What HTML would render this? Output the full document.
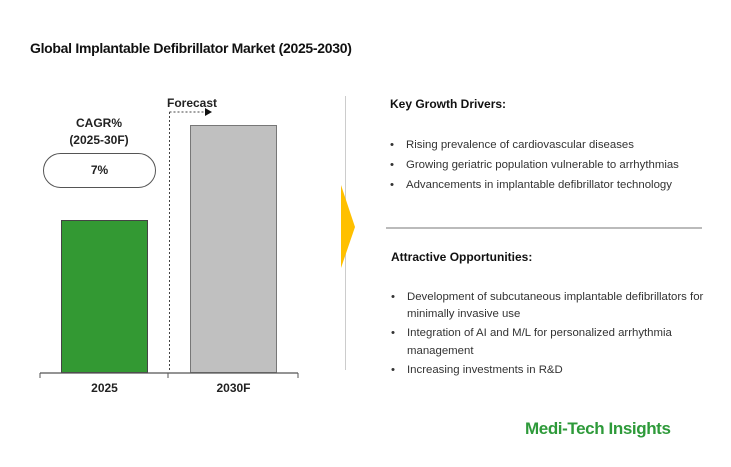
<!DOCTYPE html>
<html><head><style>
body{margin:0;width:731px;height:467px;background:#fff;font-family:"Liberation Sans",Arial,sans-serif;position:relative;overflow:hidden;color:#222}
.a{position:absolute;white-space:nowrap}
.b{font-weight:bold}
.li{font-size:11.4px;color:#333;line-height:18px}
</style></head><body>
<div class="a b" style="left:30px;top:40px;font-size:14px;color:#111;letter-spacing:-0.3px">Global Implantable Defibrillator Market (2025-2030)</div>
<svg class="a" style="left:0;top:0" width="731" height="467">
<rect x="61.5" y="220.5" width="86" height="152" fill="#339933" stroke="#444" stroke-width="1"/>
<rect x="190.5" y="125.5" width="86" height="247" fill="#c0c0c0" stroke="#777" stroke-width="1"/>
<line x1="40" y1="373" x2="298" y2="373" stroke="#555" stroke-width="1.2"/>
<line x1="40" y1="373" x2="40" y2="378" stroke="#555"/>
<line x1="168" y1="373" x2="168" y2="378" stroke="#555"/>
<line x1="298" y1="373" x2="298" y2="378" stroke="#555"/>
<line x1="169.5" y1="112" x2="169.5" y2="372" stroke="#444" stroke-dasharray="2,2"/>
<line x1="169.5" y1="112" x2="207" y2="112" stroke="#444" stroke-dasharray="2,2"/>
<polygon points="205,108 212,112 205,116" fill="#111"/>
<rect x="43.5" y="153.5" width="112" height="34" rx="17" fill="#fff" stroke="#555"/>
<line x1="345.5" y1="96" x2="345.5" y2="370" stroke="#ccc" stroke-width="1"/>
<polygon points="341,185 355,227 341,268" fill="#ffc000"/>
<line x1="386" y1="228" x2="702" y2="228" stroke="#bbb" stroke-width="2"/>
</svg>
<div class="a b" style="left:167px;top:96px;font-size:12px;color:#222">Forecast</div>
<div class="a b" style="left:0;width:198px;text-align:center;top:116px;font-size:12px">CAGR%</div>
<div class="a b" style="left:0;width:198px;text-align:center;top:133px;font-size:12px">(2025-30F)</div>
<div class="a b" style="left:43px;width:113px;text-align:center;top:163px;font-size:12px">7%</div>
<div class="a b" style="left:61px;width:87px;text-align:center;top:381px;font-size:12px">2025</div>
<div class="a b" style="left:190px;width:87px;text-align:center;top:381px;font-size:12px">2030F</div>
<div class="a b" style="left:390px;top:97px;font-size:12px;color:#111">Key Growth Drivers:</div>
<div class="a li" style="left:390px;top:136px">•<span style="position:absolute;left:16px">Rising prevalence of cardiovascular diseases</span></div>
<div class="a li" style="left:390px;top:156px">•<span style="position:absolute;left:16px">Growing geriatric population vulnerable to arrhythmias</span></div>
<div class="a li" style="left:390px;top:176px">•<span style="position:absolute;left:16px">Advancements in implantable defibrillator technology</span></div>
<div class="a b" style="left:391px;top:250px;font-size:12px;color:#111">Attractive Opportunities:</div>
<div class="a li" style="left:391px;top:288px">•<span style="position:absolute;left:16px">Development of subcutaneous implantable defibrillators for</span></div>
<div class="a li" style="left:407px;top:305px">minimally invasive use</div>
<div class="a li" style="left:391px;top:324px">•<span style="position:absolute;left:16px">Integration of AI and M/L for personalized arrhythmia</span></div>
<div class="a li" style="left:407px;top:342px">management</div>
<div class="a li" style="left:391px;top:361px">•<span style="position:absolute;left:16px">Increasing investments in R&amp;D</span></div>
<div class="a b" style="left:525px;top:419px;font-size:17px;color:#2e9a3a;letter-spacing:-0.4px">Medi-Tech Insights</div>
</body></html>
